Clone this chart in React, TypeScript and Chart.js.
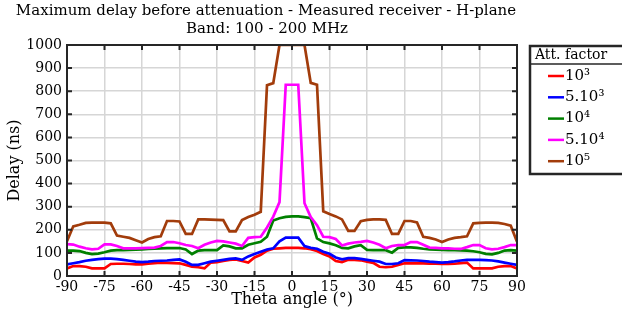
import React, { useEffect, useRef } from 'react';
import { Chart, registerables } from 'chart.js';

Chart.register(...registerables);

const angles = [
  -90, -87.5, -85, -82.5, -80, -77.5, -75, -72.5, -70, -67.5, -65, -62.5, -60, -57.5, -55, -52.5,
  -50, -47.5, -45, -42.5, -40, -37.5, -35, -32.5, -30, -27.5, -25, -22.5, -20, -17.5, -15, -12.5,
  -10, -7.5, -5, -2.5, 0, 2.5, 5, 7.5, 10, 12.5, 15, 17.5, 20, 22.5, 25, 27.5, 30, 32.5, 35, 37.5,
  40, 42.5, 45, 47.5, 50, 52.5, 55, 57.5, 60, 62.5, 65, 67.5, 70, 72.5, 75, 77.5, 80, 82.5, 85, 87.5, 90,
];

const att1e3 = [
  33, 43, 43, 40, 33, 33, 33, 52, 53, 53, 52, 50, 50, 53, 56, 58,
  57, 56, 55, 48, 40, 38, 33, 58, 60, 65, 70, 72, 65, 58, 80, 92,
  110, 118, 120, 122, 122, 122, 120, 116, 108, 95, 85, 65, 60, 70, 70, 68, 62, 57, 40, 38,
  40, 48, 55, 55, 56, 55, 54, 53, 52, 52, 53, 56, 58, 33, 33, 33, 33, 40, 43, 43, 33,
];

const att5e3 = [
  50, 55, 60, 66, 70, 73, 75, 75, 73, 70, 66, 62, 60, 62, 65, 66,
  67, 70, 72, 62, 48, 48, 55, 62, 66, 70, 74, 76, 70, 85, 95, 105,
  115, 120, 150, 166, 166, 166, 130, 122, 118, 105, 96, 80, 72, 77, 77, 74, 70, 66, 62, 52,
  52, 55, 69, 68, 67, 65, 62, 60, 58, 60, 63, 67, 70, 70, 70, 69, 67, 63, 58, 53, 48,
];

const att1e4 = [
  110, 110, 108, 100, 95, 97, 103, 110, 112, 112, 113, 114, 115, 117, 118, 120,
  121, 121, 121, 115, 95, 110, 112, 112, 112, 132, 128, 120, 120, 135, 142, 148,
  170, 240, 250, 256, 258, 258, 255, 250, 163, 147, 141, 133, 122, 120, 128, 133, 113, 112, 112, 112,
  101, 122, 124, 124, 122, 118, 115, 114, 113, 112, 112, 111, 110, 107, 103, 96, 94, 100, 110, 112, 110,
];

const att5e4 = [
  138, 136, 127, 120, 115, 118, 137, 137, 130, 120, 120, 120, 121, 122, 123, 130,
  147, 147, 142, 134, 130, 120, 135, 145, 152, 150, 145, 140, 130, 165, 168, 170,
  210, 257, 320, 828, 828, 828, 315, 255, 220, 170, 168, 160, 132, 140, 145, 148, 152, 145, 135, 120,
  130, 134, 134, 147, 147, 135, 123, 122, 120, 120, 118, 117, 125, 134, 134, 120, 115, 118, 125, 134, 134,
];

const att1e5 = [
  150, 215, 222, 230, 231, 231, 231, 228, 175, 170, 165, 155, 145, 160, 168, 172,
  238, 238, 236, 182, 182, 245, 245, 244, 243, 242, 193, 193, 242, 255, 265, 278,
  826, 835, 1000, 1000, 1000, 1000, 1000, 836, 828, 280, 268, 258, 245, 195, 195, 237, 243, 245, 245, 243,
  182, 182, 238, 238, 232, 170, 165, 158, 147, 158, 165, 168, 172, 228, 230, 231, 231, 230, 225, 218, 148,
];

const seriesValues = [att1e3, att5e3, att1e4, att5e4, att1e5];
const seriesLabels = ['10³', '5.10³', '10⁴', '5.10⁴', '10⁵'];
const seriesColors = ['#ff0000', '#0000ff', '#008000', '#ff00ff', '#a23c0b'];

const titleLines = [
  'Maximum delay before attenuation - Measured receiver - H-plane',
  'Band: 100 - 200 MHz',
];
const legendTitle = 'Att. factor';
const xAxisTitle = 'Theta angle (°)';
const yAxisTitle = 'Delay (ns)';

const FONT = "'DejaVu Serif', serif";
const INK = '#262626';

const framePlugin = {
  id: 'frame',
  afterDatasetsDraw(chart: any) {
    const { ctx, chartArea: a, scales } = chart;
    ctx.save();
    ctx.strokeStyle = INK;
    ctx.lineWidth = 2;
    const tl = 5;
    ctx.beginPath();
    scales.x.ticks.forEach((t: any) => {
      const px = scales.x.getPixelForValue(t.value);
      ctx.moveTo(px, a.bottom);
      ctx.lineTo(px, a.bottom - tl);
      ctx.moveTo(px, a.top);
      ctx.lineTo(px, a.top + tl);
    });
    scales.y.ticks.forEach((t: any) => {
      const py = scales.y.getPixelForValue(t.value);
      ctx.moveTo(a.left, py);
      ctx.lineTo(a.left + tl, py);
      ctx.moveTo(a.right, py);
      ctx.lineTo(a.right - tl, py);
    });
    ctx.stroke();
    ctx.strokeRect(a.left, a.top, a.right - a.left, a.bottom - a.top);
    ctx.restore();
  },
};

const titlePlugin = {
  id: 'twoLineTitle',
  afterDraw(chart: any) {
    const { ctx } = chart;
    ctx.save();
    ctx.fillStyle = '#000';
    ctx.font = `15px ${FONT}`;
    ctx.textAlign = 'center';
    ctx.textBaseline = 'middle';
    ctx.fillText(titleLines[0], 266, 11);
    ctx.fillText(titleLines[1], 267, 29);
    ctx.restore();
  },
};

const legendPlugin = {
  id: 'boxLegend',
  afterDraw(chart: any) {
    const { ctx } = chart;
    const left = 530;
    const top = 46;
    const bottom = 174;
    ctx.save();
    ctx.fillStyle = '#fff';
    ctx.fillRect(left, top, 120, bottom - top);
    ctx.strokeStyle = INK;
    ctx.lineWidth = 2.5;
    ctx.strokeRect(left, top, 120, bottom - top);
    ctx.beginPath();
    ctx.moveTo(left, 64);
    ctx.lineTo(left + 120, 64);
    ctx.lineWidth = 1.5;
    ctx.stroke();
    ctx.fillStyle = '#000';
    ctx.textAlign = 'left';
    ctx.textBaseline = 'middle';
    ctx.font = `14px ${FONT}`;
    ctx.fillText(legendTitle, 535, 55);
    chart.data.datasets.forEach((ds: any, i: number) => {
      const y = 76 + i * 21.3;
      ctx.strokeStyle = ds.borderColor;
      ctx.lineWidth = 2.5;
      ctx.beginPath();
      ctx.moveTo(548, y);
      ctx.lineTo(564, y);
      ctx.stroke();
      ctx.fillStyle = '#000';
      ctx.font = `15px ${FONT}`;
      ctx.fillText(ds.label, 565, y);
    });
    ctx.restore();
  },
};

export default function App() {
  const ref = useRef<HTMLCanvasElement>(null);

  useEffect(() => {
    document.body.style.margin = '0';
    if (!ref.current) return;
    const datasets = seriesValues.map((vals, i) => ({
      label: seriesLabels[i],
      data: angles.map((a, j) => ({ x: a, y: vals[j] })),
      borderColor: seriesColors[i],
      backgroundColor: seriesColors[i],
      borderWidth: 2.7,
      pointRadius: 0,
      tension: 0,
      order: seriesValues.length - i,
    }));
    const chart = new Chart(ref.current, {
      type: 'line',
      data: { datasets },
      options: {
        animation: false,
        responsive: false,
        layout: { padding: { top: 45, right: 105, left: 0, bottom: 0 } },
        plugins: {
          legend: { display: false },
          title: { display: false },
          tooltip: { enabled: false },
        },
        scales: {
          x: {
            type: 'linear',
            min: -90,
            max: 90,
            ticks: {
              stepSize: 15,
              autoSkip: false,
              maxRotation: 0,
              color: '#000',
              padding: 3,
              font: { family: FONT, size: 14 },
              callback: (v: any) => String(v),
            },
            grid: { color: '#d6d6d6', lineWidth: 1.5, drawTicks: false },
            border: { display: false },
            title: {
              display: true,
              text: xAxisTitle,
              color: '#000',
              font: { family: FONT, size: 16 },
              padding: { top: 0, bottom: 11 },
            },
            afterFit(s: any) {
              s.height = 44;
            },
          },
          y: {
            type: 'linear',
            min: 0,
            max: 1000,
            ticks: {
              stepSize: 100,
              color: '#000',
              padding: 5,
              font: { family: FONT, size: 14 },
              callback: (v: any) => String(v),
            },
            grid: { color: '#d6d6d6', lineWidth: 1.5, drawTicks: false },
            border: { display: false },
            title: {
              display: true,
              text: yAxisTitle,
              color: '#000',
              font: { family: FONT, size: 16 },
              padding: { top: 5, bottom: 0 },
            },
            afterFit(s: any) {
              s.width = 67;
            },
          },
        },
      },
      plugins: [framePlugin, titlePlugin, legendPlugin],
    });
    return () => chart.destroy();
  }, []);

  return (
    <div style={{ width: 622, height: 320, position: 'relative', overflow: 'hidden' }}>
      <canvas ref={ref} width={622} height={320} style={{ display: 'block' }} />
    </div>
  );
}
